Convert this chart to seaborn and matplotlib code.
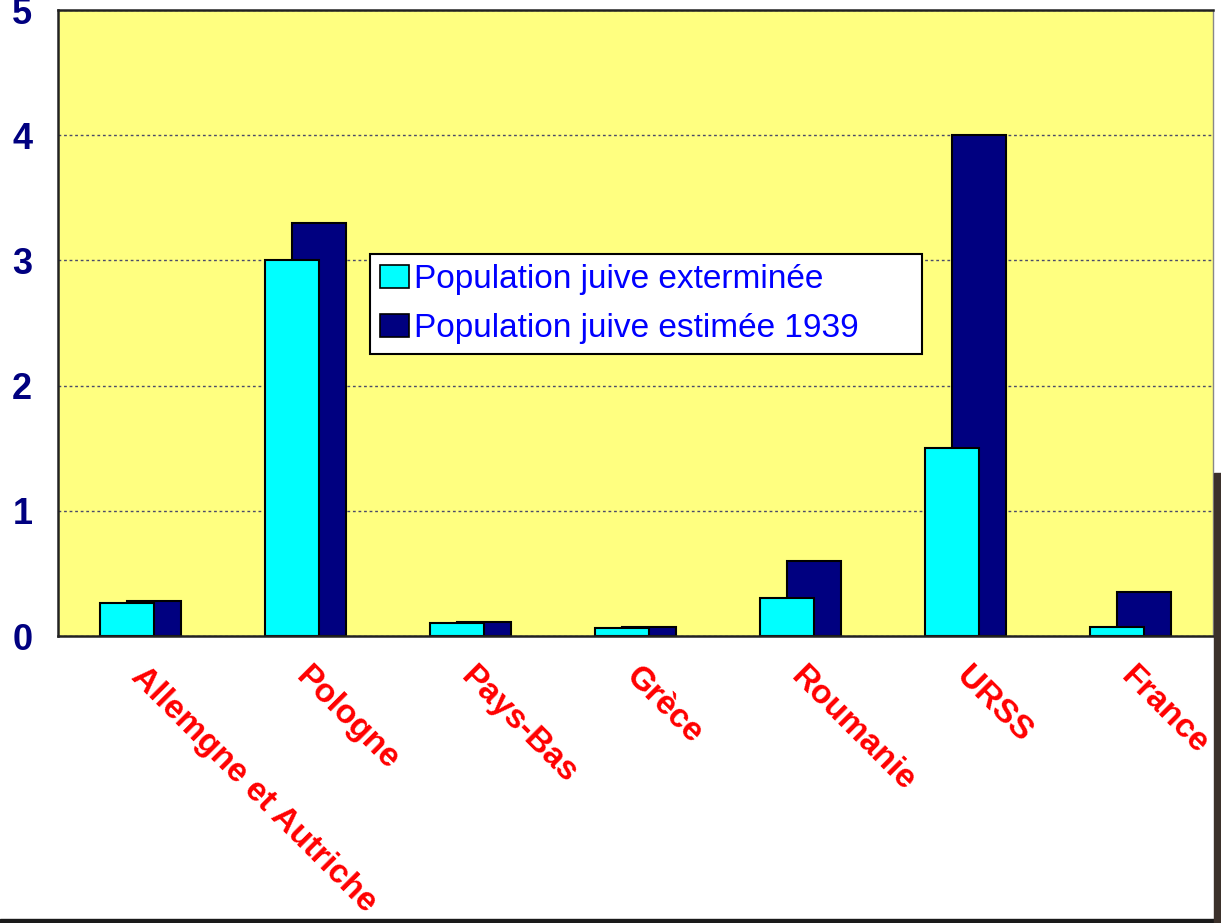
import numpy as np
import pandas as pd
import seaborn as sns
import matplotlib.pyplot as plt
from matplotlib.patches import Patch, Rectangle
from matplotlib.transforms import ScaledTranslation

categories = ["Allemgne et Autriche", "Pologne", "Pays-Bas", "Grèce", "Roumanie", "URSS", "France"]
exterminee = [0.26, 3.0, 0.10, 0.06, 0.30, 1.5, 0.075]
estimee = [0.28, 3.3, 0.11, 0.07, 0.60, 4.0, 0.35]
series_names = ["Population juive exterminée", "Population juive estimée 1939"]
yticks = [0, 1, 2, 3, 4, 5]

sns.set_theme(style="white")
plt.rcParams['font.family'] = ['Liberation Sans', 'DejaVu Sans']

fig = plt.figure(figsize=(12.21, 9.23), dpi=100)
ax = fig.add_axes([58/1221, (923-636)/923, 1155/1221, 626/923])
ax.set_facecolor("#FFFF80")

pos = np.arange(len(categories))
off = 0.083
df_est = pd.DataFrame({"x": pos + off, "y": estimee})
df_ext = pd.DataFrame({"x": pos - off, "y": exterminee})

sns.barplot(data=df_est, x="x", y="y", native_scale=True, width=0.33, color="#000080",
            saturation=1, edgecolor="black", linewidth=1.5, errorbar=None, ax=ax)
sns.barplot(data=df_ext, x="x", y="y", native_scale=True, width=0.33, color="#00FFFF",
            saturation=1, edgecolor="black", linewidth=1.5, errorbar=None, ax=ax)

ax.set_xlim(-0.5, len(categories) - 0.5)
ax.set_ylim(0, 5)
ax.set_xlabel("")
ax.set_ylabel("")
ax.set_axisbelow(True)
ax.yaxis.grid(True, linestyle=(0, (2, 2)), color="#4a4a6a", linewidth=1)
ax.xaxis.grid(False)

ax.set_yticks(yticks)
ax.set_yticklabels([str(t) for t in yticks], fontsize=26, fontweight="bold", color="#000080")
ax.set_xticks(pos)
ax.set_xticklabels(categories, rotation=-45, ha="left", va="top", rotation_mode="anchor",
                   color="#FF0000", fontweight="bold", fontsize=24)
ax.tick_params(axis="both", length=0)
ax.tick_params(axis="y", pad=18.5)
ax.tick_params(axis="x", pad=18)
for lbl in ax.get_xticklabels():
    lbl.set_transform(lbl.get_transform() + ScaledTranslation(6/100, 0, fig.dpi_scale_trans))

for s in ["left", "bottom", "top"]:
    ax.spines[s].set_color("#222222")
    ax.spines[s].set_linewidth(1.8)
ax.spines["right"].set_color("#888888")
ax.spines["right"].set_linewidth(1)

handles = [Patch(facecolor="#00FFFF", edgecolor="black", linewidth=1.2),
           Patch(facecolor="#000080", edgecolor="black", linewidth=1.2)]
lx0 = (370 - 58) / 1155
lw = (922 - 370) / 1155
ly_top = (636 - 254) / 626
leg = ax.legend(handles, series_names, loc="upper left", bbox_to_anchor=(lx0, ly_top - 0.01, lw, 0.01),
                mode="expand", borderaxespad=0, fontsize=24, labelcolor="#0000FF", frameon=True,
                fancybox=False, edgecolor="black", facecolor="white", framealpha=1,
                handlelength=0.87, handleheight=0.67, handletextpad=0.15, borderpad=0.3,
                labelspacing=0.55)
leg.get_frame().set_linewidth(1.5)

# slide edges
fig.patches.append(Rectangle((0, 0), 1, 4/923, transform=fig.transFigure, color="#1a1a1a", zorder=5))
fig.patches.append(Rectangle((1214/1221, 0), 7/1221, (923-473)/923, transform=fig.transFigure,
                             color="#3b312b", zorder=5))

fig.savefig("out.png", dpi=100)
